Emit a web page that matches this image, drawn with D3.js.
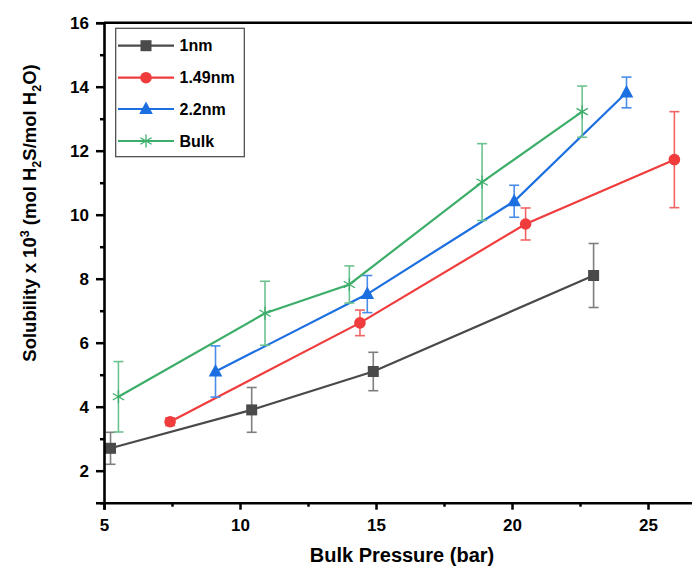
<!DOCTYPE html>
<html><head><meta charset="utf-8">
<script src="https://cdn.jsdelivr.net/npm/d3@7"></script>
<style>
html,body{margin:0;padding:0;background:#fff;}
svg text{font-family:"Liberation Sans",Arial,sans-serif;font-weight:bold;}
</style></head>
<body>
<svg id="c" width="692" height="576"></svg>
<script>
// ---- data ----
const seriesNames = ["1nm", "1.49nm", "2.2nm", "Bulk"];
const x1nm   = [5.24, 10.43, 14.9, 23.0];
const y1nm   = [2.7, 3.9, 5.1, 8.1];
const e1nm   = [0.5, 0.7, 0.6, 1.0];
const x149   = [7.43, 14.41, 20.5, 25.97];
const y149   = [3.53, 6.62, 9.71, 11.72];
const e149   = [0.12, 0.4, 0.5, 1.5];
const x22    = [9.1, 14.68, 20.08, 24.21];
const y22    = [5.1, 7.52, 10.42, 13.82];
const e22    = [0.8, 0.58, 0.5, 0.48];
const xBulk  = [5.53, 10.92, 14.02, 18.9, 22.58];
const yBulk  = [4.31, 6.92, 7.82, 11.02, 13.22];
const eBulk  = [1.1, 1.0, 0.58, 1.2, 0.8];
const xTicks = [5, 10, 15, 20, 25];
const yTicks = [2, 4, 6, 8, 10, 12, 14, 16];

const lineColors = ["#4a4a4a", "#f03c3c", "#1c6fe0", "#3dae6a"];
const errColors  = ["#7f7f7f", "#f26464", "#4a8de8", "#6cc28f"];
const markers    = ["square", "circle", "triangle", "star"];

const series = [
  {xs: x1nm, ys: y1nm, es: e1nm},
  {xs: x149, ys: y149, es: e149},
  {xs: x22,  ys: y22,  es: e22},
  {xs: xBulk, ys: yBulk, es: eBulk}
].map((s, i) => ({
  name: seriesNames[i], color: lineColors[i], ecolor: errColors[i], marker: markers[i],
  pts: s.xs.map((x, j) => ({x, y: s.ys[j], e: s.es[j]}))
}));

const svg = d3.select("#c");
const X0 = 104, Y0 = 502.7, YT = 22.7;
const x = d3.scaleLinear().domain([5, 27]).range([X0, X0 + 22 * 27.2]);
const y = d3.scaleLinear().domain([1, 16]).range([Y0, YT]);

// ---- series ----
function drawMarker(g, type, cx, cy, color) {
  if (type === "square") {
    g.append("rect").attr("x", cx - 5.5).attr("y", cy - 5.5).attr("width", 11).attr("height", 11).attr("fill", color);
  } else if (type === "circle") {
    g.append("circle").attr("cx", cx).attr("cy", cy).attr("r", 5.8).attr("fill", color);
  } else if (type === "triangle") {
    g.append("path").attr("d", `M${cx},${cy - 7.5}L${cx + 6.8},${cy + 5}L${cx - 6.8},${cy + 5}Z`).attr("fill", color);
  } else {
    const r = 6.5;
    for (let k = 0; k < 3; k++) {
      const a = Math.PI / 2 + k * Math.PI / 3;
      g.append("line").attr("x1", cx - r * Math.cos(a)).attr("y1", cy - r * Math.sin(a))
        .attr("x2", cx + r * Math.cos(a)).attr("y2", cy + r * Math.sin(a))
        .attr("stroke", color).attr("stroke-width", 1.3);
    }
  }
}

const gData = svg.append("g");
series.forEach(s => {
  const g = gData.append("g");
  g.append("path").datum(s.pts)
    .attr("d", d3.line().x(d => x(d.x)).y(d => y(d.y)))
    .attr("fill", "none").attr("stroke", s.color).attr("stroke-width", 2.2);
  s.pts.forEach(p => {
    const px = x(p.x), t = y(p.y + p.e), b = y(p.y - p.e);
    g.append("line").attr("x1", px).attr("x2", px).attr("y1", t).attr("y2", b).attr("stroke", s.ecolor).attr("stroke-width", 1.6);
    g.append("line").attr("x1", px - 5).attr("x2", px + 5).attr("y1", t).attr("y2", t).attr("stroke", s.ecolor).attr("stroke-width", 1.6);
    g.append("line").attr("x1", px - 5).attr("x2", px + 5).attr("y1", b).attr("y2", b).attr("stroke", s.ecolor).attr("stroke-width", 1.6);
  });
  s.pts.forEach(p => drawMarker(g, s.marker, x(p.x), y(p.y), s.color));
});

// ---- axes ----
const gx = svg.append("g").attr("transform", `translate(0,${Y0})`);
gx.call(d3.axisBottom(x).tickValues(d3.range(7.5, 27, 5)).tickSize(4).tickFormat(""));
gx.call(g => g.select(".domain").remove());
const gx2 = svg.append("g").attr("transform", `translate(0,${Y0})`)
  .call(d3.axisBottom(x).tickValues(xTicks).tickSize(7).tickPadding(6).tickFormat(d3.format("d")));
[gx, gx2].forEach(g => {
  g.selectAll(".tick line").attr("stroke", "#000").attr("stroke-width", 2.5);
});
gx2.select(".domain").attr("stroke", "#000").attr("stroke-width", 2.6);
gx2.selectAll("text").attr("font-size", 17).attr("fill", "#000").attr("dy", "0.9em");

const gy = svg.append("g").attr("transform", `translate(${X0},0)`);
gy.call(d3.axisLeft(y).tickValues(d3.range(1, 16, 2)).tickSize(4).tickFormat(""));
gy.call(g => g.select(".domain").remove());
const gy2 = svg.append("g").attr("transform", `translate(${X0},0)`)
  .call(d3.axisLeft(y).tickValues(yTicks).tickSize(8).tickPadding(7).tickFormat(d3.format("d")));
[gy, gy2].forEach(g => g.selectAll(".tick line").attr("stroke", "#000").attr("stroke-width", 2.5));
gy2.select(".domain").attr("stroke", "#000").attr("stroke-width", 2.6);
gy2.selectAll("text").attr("font-size", 17).attr("fill", "#000");

// top frame
svg.append("line").attr("x1", X0).attr("x2", 692).attr("y1", y(16)).attr("y2", y(16))
  .attr("stroke", "#000").attr("stroke-width", 2.6);

// axis titles
svg.append("text").attr("x", 402).attr("y", 562).attr("text-anchor", "middle")
  .attr("font-size", 20).attr("fill", "#000").text("Bulk Pressure (bar)");

const yt = svg.append("text").attr("transform", "translate(36,213) rotate(-90)")
  .attr("text-anchor", "middle").attr("font-size", 18.5).attr("fill", "#000");
yt.append("tspan").text("Solubility x 10");
yt.append("tspan").attr("font-size", 12.5).attr("dy", -7).text("3");
yt.append("tspan").attr("dy", 7).text(" (mol H");
yt.append("tspan").attr("font-size", 12.5).attr("dy", 5).text("2");
yt.append("tspan").attr("dy", -5).text("S/mol H");
yt.append("tspan").attr("font-size", 12.5).attr("dy", 5).text("2");
yt.append("tspan").attr("dy", -5).text("O)");

// legend
const lg = svg.append("g");
lg.append("rect").attr("x", 115.7).attr("y", 28.3).attr("width", 128.6).attr("height", 128.4)
  .attr("fill", "#fff").attr("stroke", "#444").attr("stroke-width", 1.2);
const rowY = [45.7, 77.7, 109, 141];
series.forEach((s, i) => {
  const g = lg.append("g");
  g.append("line").attr("x1", 118).attr("x2", 174).attr("y1", rowY[i]).attr("y2", rowY[i])
    .attr("stroke", s.color).attr("stroke-width", 2.2);
  drawMarker(g, s.marker, 146, rowY[i], s.color);
  g.append("text").attr("x", 179.5).attr("y", rowY[i]).attr("dy", "0.36em")
    .attr("font-size", 16).attr("fill", "#000").text(s.name);
});
</script>
</body></html>
